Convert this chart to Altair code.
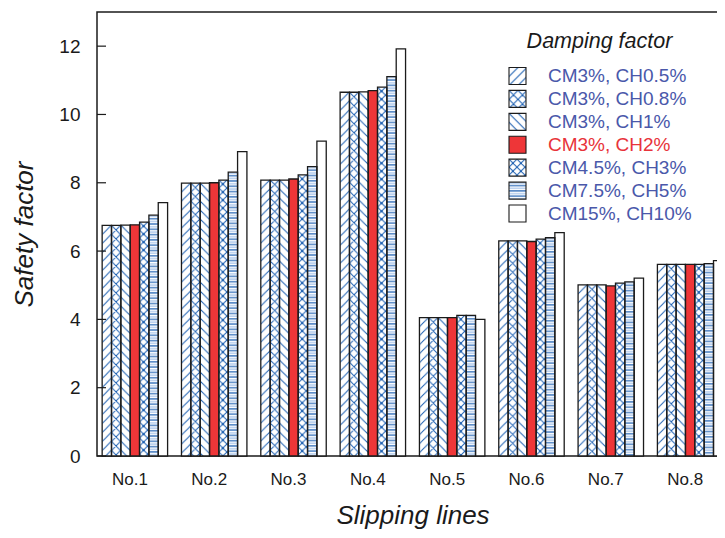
import base64
import altair as alt
import pandas as pd

# ---- data ----
groups = ["No.1", "No.2", "No.3", "No.4", "No.5", "No.6", "No.7", "No.8"]
series = ["CM3%, CH0.5%", "CM3%, CH0.8%", "CM3%, CH1%", "CM3%, CH2%",
          "CM4.5%, CH3%", "CM7.5%, CH5%", "CM15%, CH10%"]
s_ch05 = [6.75, 7.99, 8.08, 10.65, 4.05, 6.30, 5.01, 5.61]
s_ch08 = [6.75, 7.99, 8.08, 10.65, 4.05, 6.30, 5.01, 5.61]
s_ch1 = [6.76, 7.99, 8.08, 10.66, 4.05, 6.30, 5.01, 5.61]
s_ch2 = [6.77, 8.00, 8.11, 10.70, 4.05, 6.28, 4.98, 5.61]
s_ch3 = [6.85, 8.08, 8.23, 10.80, 4.12, 6.35, 5.06, 5.61]
s_ch5 = [7.05, 8.31, 8.47, 11.11, 4.12, 6.39, 5.10, 5.63]
s_ch10 = [7.42, 8.91, 9.22, 11.92, 4.00, 6.54, 5.21, 5.72]
y_ticks = [0, 2, 4, 6, 8, 10, 12]
legend_title = ["Damping factor"]
x_title = "Slipping lines"
y_title = "Safety factor"

values = [s_ch05, s_ch08, s_ch1, s_ch2, s_ch3, s_ch5, s_ch10]

# ---- styles ----
BLUE = "#1d60b2"
RED = "#ee3638"
LBLUE = "#4a58aa"
LRED = "#e8333a"


def pattern_uri(inner, tw, th):
    svg = ("<svg xmlns='http://www.w3.org/2000/svg' width='100%' height='100%'>"
           f"<defs><pattern id='p' width='{tw}' height='{th}' patternUnits='userSpaceOnUse'>"
           f"{inner}</pattern></defs>"
           "<rect width='100%' height='100%' fill='url(#p)'/></svg>")
    return "data:image/svg+xml;base64," + base64.b64encode(svg.encode()).decode()


sw = "1.05"
p_fwd = pattern_uri(f"<path d='M0,9 L9,0 M-1,1 L1,-1 M8,10 L10,8' stroke='{BLUE}' stroke-width='{sw}' fill='none'/>", 9, 9)
p_cross = pattern_uri(f"<path d='M0,9 L9,0 M0,0 L9,9 M-1,1 L1,-1 M8,10 L10,8 M-1,8 L1,10 M8,-1 L10,1' stroke='{BLUE}' stroke-width='{sw}' fill='none'/>", 9, 9)
p_back = pattern_uri(f"<path d='M0,0 L9,9 M-1,8 L1,10 M8,-1 L10,1' stroke='{BLUE}' stroke-width='{sw}' fill='none'/>", 9, 9)
p_cross2 = pattern_uri(f"<path d='M0,8 L8,0 M0,0 L8,8 M-1,1 L1,-1 M7,9 L9,7 M-1,7 L1,9 M7,-1 L9,1' stroke='{BLUE}' stroke-width='{sw}' fill='none'/>"
                       f"<circle cx='4' cy='4' r='1.2' fill='{BLUE}'/>", 8, 8)
p_horiz = pattern_uri(f"<rect x='0' y='0.3' width='10' height='1.3' fill='#aac6ea'/>"
                      f"<rect x='0' y='2.9' width='10' height='1.2' fill='{BLUE}'/>", 10, 5.3)

patterns = [p_fwd, p_cross, p_back, "", p_cross2, p_horiz, ""]
fills = ["white", "white", "white", RED, "white", "white", "white"]
label_colors = [LBLUE, LBLUE, LBLUE, LRED, LBLUE, LBLUE, LBLUE]

rows = []
for si, s in enumerate(series):
    for gi, g in enumerate(groups):
        rows.append({"group": g, "series": s, "value": values[si][gi],
                     "url": patterns[si], "fillc": fills[si]})
df = pd.DataFrame(rows)
leg = pd.DataFrame({"series": series, "url": patterns, "fillc": fills, "labelc": label_colors})
ticks_df = pd.DataFrame({"tick": y_ticks})
title_df = pd.DataFrame({"t": legend_title})

W, H = 631, 444
FONT = "Liberation Sans"

yscale = alt.Scale(domain=[0, 13], nice=False, zero=True)
xscale = alt.Scale(paddingInner=0.175, paddingOuter=0.065)
xoff = alt.XOffset("series:N", sort=series, scale=alt.Scale(domain=series, paddingInner=0, paddingOuter=0))

x_enc = alt.X("group:N", sort=groups, scale=xscale,
              axis=alt.Axis(title=x_title, labelAngle=0, ticks=False, domain=False,
                            labelFontSize=17, labelPadding=28, labelBaseline="alphabetic",
                            labelOffset=-5, labelColor="#1a1a1a",
                            titleFontSize=26, titleFontStyle="italic", titleFontWeight="normal",
                            titleBaseline="alphabetic", titleY=67, titleColor="#1a1a1a"))
y_enc = alt.Y("value:Q", scale=yscale,
              axis=alt.Axis(title=y_title, values=y_ticks, ticks=False, domain=False, grid=False,
                            labelFontSize=19, labelPadding=17, labelColor="#1a1a1a",
                            titleFontSize=26, titleFontStyle="italic", titleFontWeight="normal",
                            titleAngle=270, titleX=-65, titleY=H / 2, titleAlign="center",
                            titleBaseline="alphabetic", titleColor="#1a1a1a"))

base = alt.Chart(df)
bar_fill = base.mark_bar(strokeWidth=0).encode(
    x=x_enc, xOffset=xoff, y=y_enc, y2=alt.datum(0),
    fill=alt.Fill("fillc:N", scale=None))
bar_img = base.transform_filter(alt.datum.url != "").mark_image(aspect=False).encode(
    x=x_enc, xOffset=xoff,
    y=alt.Y("value:Q", scale=yscale, axis=None), y2=alt.datum(0),
    url="url:N")
bar_line = base.mark_bar(fill="transparent", stroke="#1b1b1b", strokeWidth=1.3).encode(
    x=x_enc, xOffset=xoff,
    y=alt.Y("value:Q", scale=yscale, axis=None), y2=alt.datum(0))

tick_left = alt.Chart(ticks_df).mark_rule(color="#1a1a1a", strokeWidth=1.2).encode(
    y=alt.Y("tick:Q", scale=yscale, axis=None), x=alt.value(0), x2=alt.value(9))
tick_right = alt.Chart(ticks_df).mark_rule(color="#1a1a1a", strokeWidth=1.2).encode(
    y=alt.Y("tick:Q", scale=yscale, axis=None), x=alt.value(W - 9), x2=alt.value(W))

ly = alt.Y("series:N", sort=series,
           scale=alt.Scale(type="point", domain=series, range=[64, 201.5], padding=0), axis=None)
leg_base = alt.Chart(leg)
leg_sq = leg_base.mark_square(size=289, opacity=1, strokeWidth=0).encode(
    x=alt.value(420.5), y=ly, fill=alt.Fill("fillc:N", scale=None))
leg_img = leg_base.transform_filter(alt.datum.url != "").mark_image(width=17, height=17, aspect=False).encode(
    x=alt.value(420.5), y=ly, url="url:N")
leg_out = leg_base.mark_square(size=289, filled=False, opacity=1, stroke="#1b1b1b", strokeWidth=1.1).encode(
    x=alt.value(420.5), y=ly)
leg_txt = leg_base.mark_text(align="left", baseline="middle", fontSize=19, font=FONT).encode(
    x=alt.value(451), y=ly, text="series:N", color=alt.Color("labelc:N", scale=None))
leg_title = alt.Chart(title_df).mark_text(align="center", baseline="middle", fontSize=21.5,
                                           fontStyle="italic", font=FONT, color="#1a1a1a").encode(
    x=alt.value(502.5), y=alt.value(30), text="t:N")

chart = alt.layer(bar_fill, bar_img, bar_line, tick_left, tick_right,
                  leg_sq, leg_img, leg_out, leg_txt, leg_title).resolve_scale(
    y="independent").properties(
    width=W, height=H,
    autosize=alt.AutoSizeParams(type="none"),
    padding={"left": 89, "top": 4, "right": -11, "bottom": 80},
).configure(font=FONT, background="white").configure_view(stroke="#1b1b1b", strokeWidth=1.5)

chart.save("out.html", embed_options={"renderer": "svg", "actions": False})
